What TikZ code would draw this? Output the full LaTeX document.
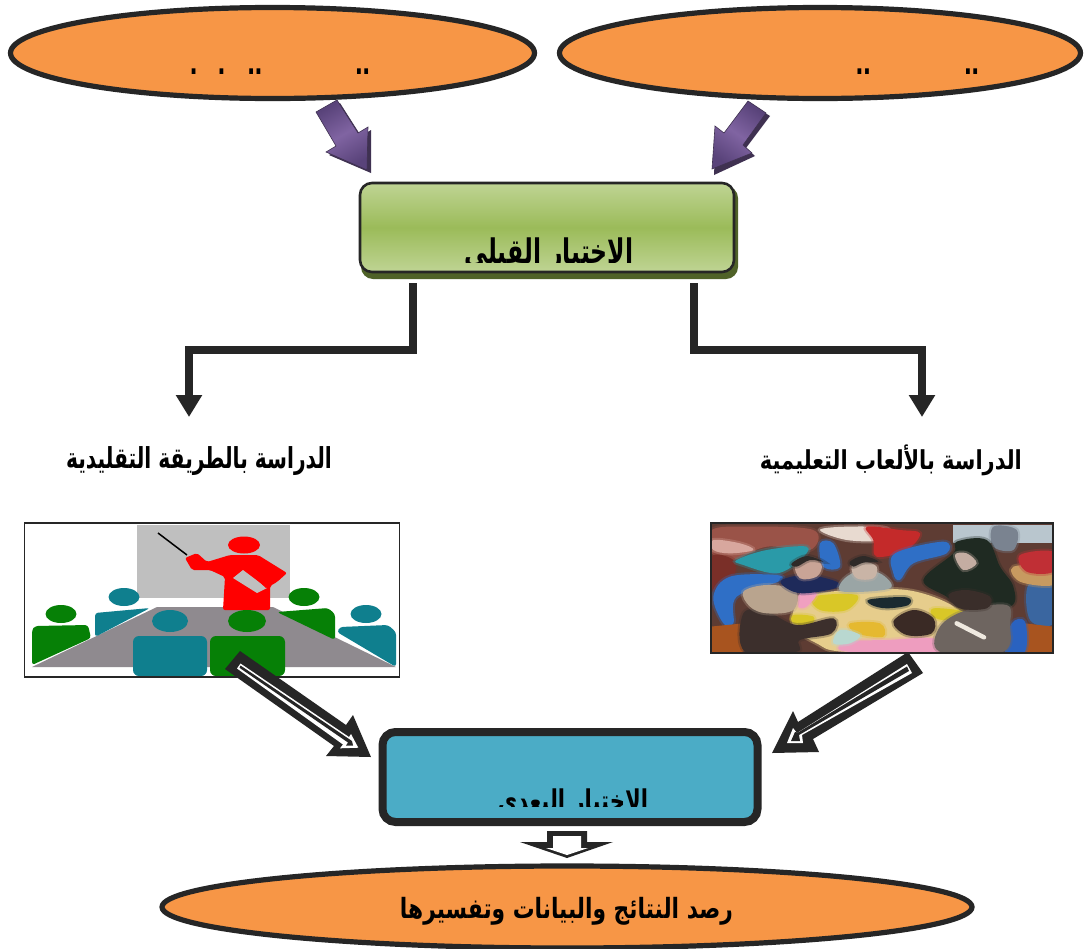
\documentclass[tikz,border=0pt]{standalone}
\usepackage{fontspec}
\usepackage{graphicx}
\usetikzlibrary{shapes.geometric,arrows.meta}
\newfontfamily\arabicfont[Script=Arabic]{DejaVu Sans}
\TeXXeTstate=1
\definecolor{inkdark}{HTML}{262626}
\definecolor{orangefill}{HTML}{F79646}
\definecolor{bluefill}{HTML}{4BACC6}
\definecolor{tealp}{HTML}{0F7F8E}
\definecolor{greenp}{HTML}{068006}
\definecolor{purplemid}{HTML}{8064A2}
\definecolor{purpleedge}{HTML}{59437A}
\definecolor{purpleshade}{HTML}{3F3151}
\definecolor{oliveshadow}{HTML}{4F6228}
\definecolorset{HTML}{}{}{BFD494,BFD494;9BBB59,9BBB59;BFBFBF,BFBFBF;8F8A8F,8F8A8F;9A5348,9A5348;7A2F28,7A2F28;D8A79E,D8A79E;2A9AA8,2A9AA8;E8DAD0,E8DAD0;C42A2A,C42A2A;2F6FC6,2F6FC6;B9C6CE,B9C6CE;7A8390,7A8390;3A66A0,3A66A0;C79A60,C79A60;C02F35,C02F35;A8541F,A8541F;2A62C0,2A62C0;1F2A22,1F2A22;C4ADA2,C4ADA2;E6CD8C,E6CD8C;D9C727,D9C727;E5B930,E5B930;F0A0C0,F0A0C0;EE9DBF,EE9DBF;B9D8D0,B9D8D0;1A2A30,1A2A30;6E6560,6E6560;EFE9E0,EFE9E0;3A2A25,3A2A25;3C2F2C,3C2F2C;B9A48E,B9A48E;1E2A5A,1E2A5A;C9A496,C9A496;2E2A28,2E2A28;9AA5A5,9AA5A5;C9B4A6,C9B4A6;3A2E2A,3A2E2A;5E3C33,5E3C33}
\newcommand{\artext}[3]{\resizebox*{#1pt}{#2pt}{\arabicfont\bfseries #3}}
\newcommand{\blob}[2]{\fill[#1,draw=#1,draw opacity=.3,line width=4pt] plot[smooth cycle,tension=.6] coordinates {#2};}
\tikzset{
  x=1pt,y=-1pt,
  oval/.style={ellipse,draw=inkdark,line width=5.2pt,fill=orangefill,inner sep=0pt},
  label text/.style={inner sep=0pt,outer sep=0pt,text=black},
  elbow/.style={draw=inkdark,line width=8pt,miter limit=10,-{Triangle[width=25pt,length=22pt]}},
  blockdark/.style={fill=inkdark},
  blockwhite/.style={fill=white},
  frame/.style={draw=inkdark,line width=1.6pt}
}
\begin{document}
\begin{tikzpicture}
\clip (0,0) rectangle (1092,948);
\useasboundingbox (0,0) rectangle (1092,948);
\fill[white] (0,0) rectangle (1092,948);

% top ovals
\node[oval,minimum width=524pt,minimum height=91pt] (ctrl) at (272.5,53) {};
\node[oval,minimum width=521pt,minimum height=91pt] (expt) at (820,53) {};
\begin{scope}
  \clip (100,50) rectangle (1050,73.5);
  \node[label text] (ctrltext) at (273,82) {\artext{194}{26}{\beginR المجموعة الضابطة\endR}};
  \node[label text] (expttext) at (879,82) {\artext{200}{26}{\beginR المجموعة التجريبية\endR}};
\end{scope}

% pre-test box
\fill[rounded corners=12pt,fill=oliveshadow] (361,186) rectangle (738,279);
\node[draw=inkdark,line width=2.6pt,rounded corners=12pt,minimum width=374pt,minimum height=89pt,inner sep=0pt,
      top color=BFD494,bottom color=BFD494,middle color=9BBB59] (pre) at (547,227.5) {};
\begin{scope}
  \clip (440,225) rectangle (660,262);
  \node[label text] (pretext) at (549,255) {\artext{169}{34}{\beginR الاختبار القبلي\endR}};
\end{scope}

% purple arrows
\fill[purpleshade] (319,115)--(340,103)--(361,136)--(371,130)--(371,173)--(329,155)--(339,149)--cycle;
\draw[draw=purpleshade,line width=.6pt,left color=purpleedge,right color=purpleedge,middle color=purplemid,shading angle=30]
  (316,112)--(337,100)--(358,133)--(368,127)--(367,170)--(326,152)--(336,146)--cycle;
\fill[purpleshade] (751,104)--(770,116)--(746,148)--(755,156)--(714,175)--(716,130)--(727,136)--cycle;
\draw[draw=purpleshade,line width=.6pt,left color=purpleedge,right color=purpleedge,middle color=purplemid,shading angle=-35]
  (748,101)--(766,113)--(743,145)--(752,153)--(712,169)--(715,126)--(724,133)--cycle;

% elbow connectors
\coordinate (preL) at (413,283);
\coordinate (preR) at (694,283);
\coordinate (studyL) at (189,417);
\coordinate (studyR) at (922,417);
\draw[elbow] (preL) -- (413,350) -- (189,350) -- (studyL);
\draw[elbow] (preR) -- (694,350) -- (922,350) -- (studyR);

% study labels
\node[label text] (tradlabel) at (199,461) {\artext{266}{29}{\beginR الدراسة بالطريقة التقليدية\endR}};
\node[label text] (gameslabel) at (891,460) {\artext{262}{31}{\beginR الدراسة بالألعاب التعليمية\endR}};

% classroom picture
\fill[BFBFBF] (137,525) rectangle (290,598);
\fill[8F8A8F] (157,607) -- (273,607) -- (396,667) -- (32,667) -- cycle;
\fill[red] (244,545) ellipse (16 and 8.5);
\fill[red,rounded corners=2pt] (185,558)--(197,553)--(207,562)--(230,555)--(258,555)--(287,573)--(277,582)--(270,586)--(270,610)--(223,610)--(225,577)--(210,570)--(192,570)--cycle;
\fill[BFBFBF] (233,578)--(243,570)--(267,588)--(257,593)--cycle;
\fill[red] (255,578)--(262,576)--(272,583)--(266,588)--cycle;
\draw[black,line width=1.5pt] (158,533) -- (187,555);
% seated people
\fill[tealp] (124,597) ellipse (15.5 and 9);
\fill[tealp,rounded corners=3pt] (95,613)--(150,608)--(95,637)--cycle;
\fill[greenp] (61,614) ellipse (15.5 and 9);
\fill[greenp,rounded corners=3pt] (32,630)--(35,626)--(88,625)--(91,638)--(32,665)--cycle;
\fill[greenp] (304,597) ellipse (15.5 and 9);
\fill[greenp,rounded corners=3pt] (277,612)--(328,608)--(335,614)--(335,640)--cycle;
\fill[tealp] (366,614) ellipse (15.5 and 9);
\fill[tealp,rounded corners=3pt] (337,632)--(340,627)--(388,625)--(396,632)--(396,667)--cycle;
\fill[tealp] (170,621) ellipse (18 and 11);
\fill[tealp,rounded corners=6pt] (133,676)--(133,636)--(207,636)--(207,676)--cycle;
\fill[greenp] (247,621) ellipse (19 and 11);
\fill[greenp,rounded corners=6pt] (210,676)--(210,636)--(285,636)--(285,676)--cycle;
\node[frame,minimum width=375pt,minimum height=154pt,inner sep=0pt] (classpic) at (212,600) {};

% classroom photo
\begin{scope}
  \clip (711,523) rectangle (1053,653);
  \begin{scope}[shift={(700,510)},scale=1/3]
    \fill[5E3C33] (30,40) rectangle (1060,430);
    \blob{9A5348}{(35,60) (150,50) (340,60) (330,120) (200,110) (100,150) (35,130)}
    \blob{7A2F28}{(35,140) (100,150) (100,200) (40,240)}
    \blob{D8A79E}{(40,90) (120,100) (160,120) (90,130) (40,120)}
    \blob{2A9AA8}{(110,150) (200,120) (320,110) (300,150) (230,190) (130,165)}
    \blob{E8DAD0}{(360,60) (440,50) (560,55) (550,90) (440,90)}
    \blob{C42A2A}{(500,50) (600,60) (660,70) (620,120) (530,140) (520,90)}
    \blob{2F6FC6}{(360,100) (400,100) (420,170) (370,170)}
    \blob{2F6FC6}{(585,130) (730,95) (740,130) (640,160) (600,210) (580,190)}
    \blob{2F6FC6}{(90,200) (230,195) (235,215) (110,260) (100,340) (70,340) (40,260)}
    \fill[B9C6CE] (760,45) rectangle (1060,100);
    \blob{7A8390}{(880,50) (950,60) (940,120) (880,110)}
    \blob{3A66A0}{(985,225) (1060,225) (1060,340) (990,330)}
    \blob{C79A60}{(940,170) (1060,170) (1060,225) (960,215)}
    \blob{C02F35}{(960,135) (1060,125) (1060,185) (980,185)}
    \fill[A8541F] (30,350) -- (130,340) -- (130,430) -- (30,430) -- cycle;
    \fill[A8541F] (975,340) -- (1060,350) -- (1060,430) -- (975,430) -- cycle;
    \blob{2A62C0}{(935,340) (975,335) (975,425) (915,425)}
    \blob{1F2A22}{(670,210) (760,130) (770,95) (860,90) (900,170) (940,230) (930,290) (790,295) (740,260)}
    \blob{C4ADA2}{(765,135) (800,130) (830,160) (790,180)}
    \blob{E6CD8C}{(290,280) (340,250) (620,240) (790,310) (720,360) (710,425) (430,425) (350,400) (280,350)}
    \blob{D9C727}{(340,260) (470,255) (440,300) (360,300)}
    \blob{D9C727}{(700,295) (790,305) (740,330) (700,320)}
    \blob{D9C727}{(280,315) (340,320) (330,345) (280,340)}
    \blob{E5B930}{(450,340) (540,340) (550,380) (470,370)}
    \blob{F0A0C0}{(300,250) (350,250) (320,290) (295,290)}
    \blob{EE9DBF}{(440,395) (560,390) (700,385) (715,425) (440,425)}
    \blob{B9D8D0}{(420,360) (480,375) (450,400) (400,400)}
    \blob{1A2A30}{(510,268) (620,262) (625,285) (560,295) (515,285)}
    \blob{6E6560}{(720,350) (800,300) (920,285) (930,340) (910,425) (720,425)}
    \draw[EFE9E0,line width=4.5pt,line cap=round] (770,340) -- (852,382);
    \blob{3A2A25}{(580,335) (640,300) (700,325) (695,370) (620,375)}
    \blob{3C2F2C}{(130,310) (200,305) (290,345) (400,325) (395,370) (300,390) (290,425) (135,425)}
    \blob{B9A48E}{(130,245) (200,225) (285,240) (280,300) (200,310) (150,290)}
    \blob{1E2A5A}{(245,210) (320,195) (410,215) (405,235) (310,250) (260,235)}
    \blob{C9A496}{(285,160) (330,145) (365,165) (350,200) (300,205)}
    \blob{2E2A28}{(275,160) (320,138) (370,155) (330,150) (290,170)}
    \blob{9AA5A5}{(425,215) (470,185) (540,190) (570,235) (430,245)}
    \blob{C9B4A6}{(455,170) (490,155) (530,170) (520,205) (470,205)}
    \blob{2E2A28}{(450,155) (490,138) (535,155) (490,158) (460,170)}
    \blob{3A2E2A}{(745,255) (800,240) (870,260) (860,295) (780,295)}
  \end{scope}
\end{scope}
\node[draw=inkdark,line width=1.6pt,minimum width=342pt,minimum height=130pt,inner sep=0pt] (gamespic) at (882,588) {};

% post-test box
\node[draw=inkdark,line width=8pt,fill=bluefill,rounded corners=13pt,minimum width=375pt,minimum height=90pt,inner sep=0pt] (post) at (570,777) {};
\begin{scope}
  \clip (480,770) rectangle (670,806);
  \node[label text] (posttext) at (573,804) {\artext{150}{30}{\beginR الاختبار البعدي\endR}};
\end{scope}

% double block arrows
\fill[blockdark] (240,651)--(346,725)--(353,715)--(371,757)--(326,756)--(334,746)--(225,669)--cycle;
\fill[blockwhite] (240.5,663.5)--(349,737)--(351,734)--(358.3,747.7)--(340,748.3)--(343,744.5)--(237,668.5)--cycle;
\fill[blockdark] (240.5,665.5)--(352,741)--(353,745.5)--(346,745.5)--(348,742.5)--(239.5,667.8)--cycle;
\fill[blockdark] (908,652)--(923,673)--(813,739)--(819,752)--(772,753)--(793,711)--(798,722)--cycle;
\fill[blockwhite] (907,664)--(912,673)--(802,735)--(803,743)--(787,743)--(793,728)--(797,733)--cycle;
\fill[blockdark] (907,666.5)--(909,671)--(799,735)--(800,741)--(791,741)--(795,732)--(798,732.5)--cycle;

% arrow between post-test and results
\fill[blockdark] (547,831)--(587,831)--(587,842)--(613,842)--(567,858)--(520,842)--(547,842)--cycle;
\fill[blockwhite] (553,836)--(581,836)--(581,848)--(588,848)--(567,855)--(546,848)--(553,848)--cycle;

% results oval
\node[oval,minimum width=810pt,minimum height=82pt] (results) at (567,907) {};
\node[label text] (resultstext) at (566.5,911) {\artext{333}{28}{\beginR رصد النتائج والبيانات وتفسيرها\endR}};
\end{tikzpicture}
\end{document}
